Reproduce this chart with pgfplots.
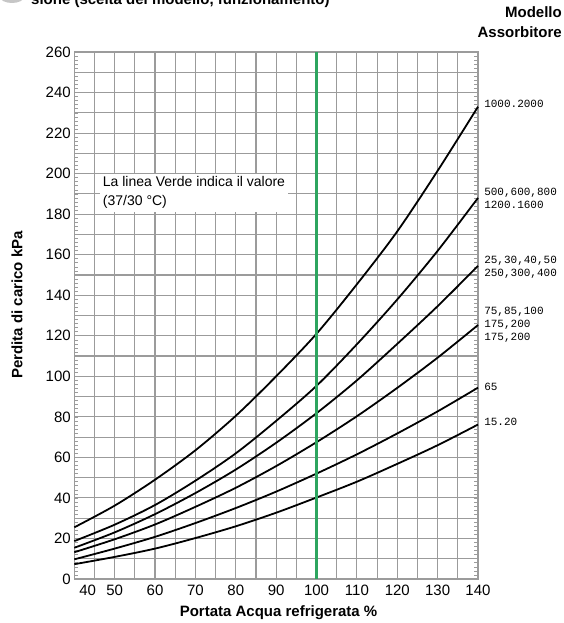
\documentclass[border=0pt]{standalone}
\usepackage{pgfplots}
\pgfplotsset{compat=1.18}
\usepackage{fontspec}
\setmainfont{Liberation Sans}
\newfontfamily\monofont{Liberation Mono}
\definecolor{gridgray}{RGB}{155,155,155}
\definecolor{vgreen}{RGB}{45,165,95}

\pgfplotstableread{
x c1 c2 c3 c4 c5 c6
40 25.5 18.7 15.4 13.2 9.7 7.3
50 36.2 26.8 23.0 19.6 15.0 10.9
60 49.0 36.5 32.0 26.9 20.8 15.0
70 63.5 48.5 42.4 35.6 27.6 20.2
80 80.5 62.0 54.0 45.0 35.0 26.0
90 100.0 78.0 67.2 55.7 43.1 32.7
100 121.0 95.3 81.8 67.5 52.0 40.2
110 145.4 115.8 98.0 80.3 61.5 48.0
120 171.5 137.9 116.0 94.3 71.8 56.8
130 201.4 161.9 134.6 109.2 82.7 66.0
140 233.0 188.0 154.5 125.3 94.4 76.2
}\curves

\begin{document}
\begin{tikzpicture}
\useasboundingbox (0pt,0pt) rectangle (564pt,623pt);
% cut-off header
\fill[gray!45] (12pt,626pt) ellipse (12pt and 6pt);
\node[anchor=base west,font=\bfseries\fontsize{15}{18}\selectfont,inner sep=0pt] at (31pt,618.5pt) {sione (scelta del modello, funzionamento)};
\node[align=right,anchor=north east,font=\bfseries\fontsize{15}{20}\selectfont,inner sep=0pt] at (562pt,617pt) {Modello\\Assorbitore};
\begin{axis}[
  at={(74.3pt,44pt)}, anchor=south west,
  scale only axis, width=403.7pt, height=527pt,
  xmin=40, xmax=140, ymin=0, ymax=260,
  xtick={40,50,...,140},
  xticklabels={\hspace*{10pt}\rlap{40},50,60,70,80,90,100,110,120,130,140},
  ytick={0,20,...,260},
  minor xtick={45,55,...,135},
  minor ytick={10,30,...,250},
  extra y ticks={2,4,...,258},
  extra y tick labels={},
  extra y tick style={grid=none, major tick length=4pt, tick style={gridgray, line width=0.6pt}},
  grid=both,
  major grid style={gridgray, line width=1.1pt},
  minor grid style={gridgray, line width=1.1pt},
  axis line style={gridgray, line width=1.4pt},
  major tick length=0pt, minor tick length=0pt,
  /pgf/number format/assume math mode=true,
  ticklabel style={font=\fontsize{15}{17}\selectfont},
  xticklabel style={yshift=-2pt},
  xlabel={Portata Acqua refrigerata \%},
  ylabel={Perdita di carico kPa},
  label style={font=\bfseries\fontsize{15}{18}\selectfont},
  xlabel style={at={(axis description cs:0.506,-0.063)}, anchor=center},
  ylabel style={at={(axis description cs:-0.142,0.52)}, anchor=center},
  clip=false,
]
\foreach \c in {c1,c2,c3,c4,c5,c6}{
  \addplot[black, line width=1.8pt, smooth, tension=0.5] table[x=x, y=\c] {\curves};
}
\addplot[vgreen, line width=3.8pt] coordinates {(100,0) (100,260)};
\node[anchor=north west, fill=white, inner sep=3pt, align=left, font=\fontsize{14}{19}\selectfont]
  at (axis cs:46.3,200) {La linea Verde indica il valore\\(37/30 °C)};
\begin{scope}[every node/.style={anchor=west, font=\monofont\fontsize{11}{13}\selectfont, inner sep=0pt, align=left}]
\node at (axis cs:141.5,234.5) {1000.2000};
\node at (axis cs:141.5,188) {500,600,800\\1200.1600};
\node at (axis cs:141.5,154) {25,30,40,50\\250,300,400};
\node at (axis cs:141.5,125.5) {75,85,100\\175,200\\175,200};
\node at (axis cs:141.5,95) {65};
\node at (axis cs:141.5,77.5) {15.20};
\end{scope}
\end{axis}
\end{tikzpicture}
\end{document}
